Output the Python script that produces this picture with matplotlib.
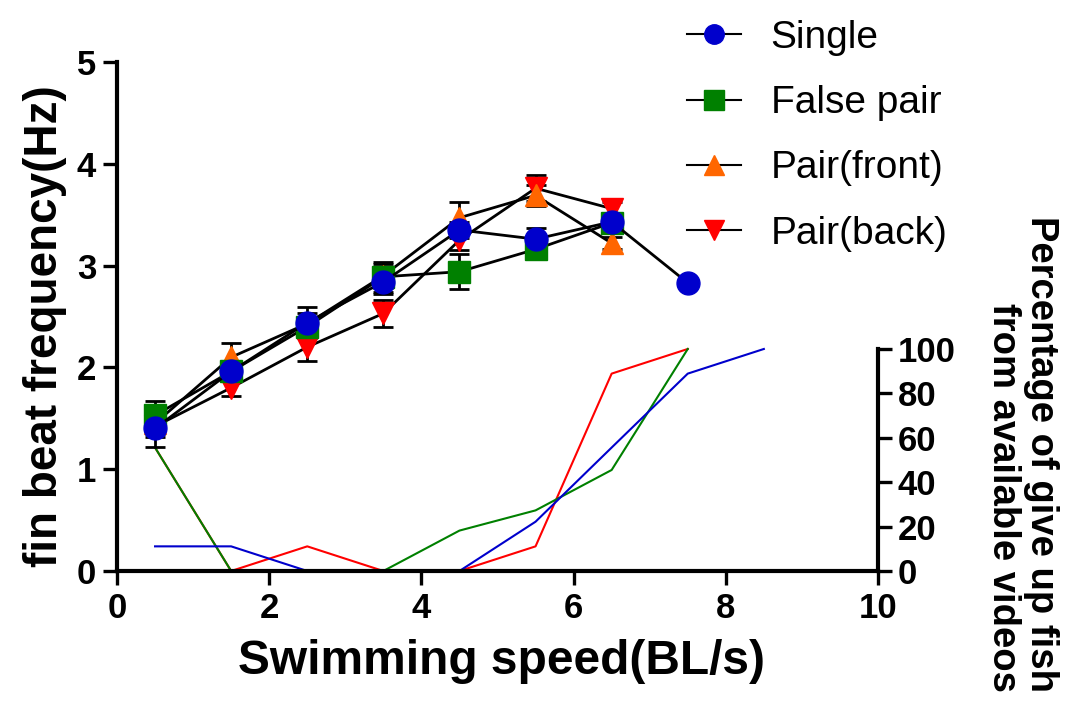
import matplotlib
matplotlib.use("Agg")
import matplotlib.pyplot as plt
from matplotlib.lines import Line2D

plt.rcParams['font.family'] = ['Liberation Sans', 'DejaVu Sans']

# fin beat frequency (Hz) vs swimming speed
speed = [0.5, 1.5, 2.5, 3.5, 4.5, 5.5, 6.5, 7.5]
single = [1.40, 1.96, 2.44, 2.84, 3.35, 3.26, 3.43, 2.83]
single_err = [0.18, 0.08, 0.15, 0.12, 0.08, 0.11, 0.05, 0.0]
false_pair = [1.53, 1.96, 2.40, 2.89, 2.94, 3.16, 3.42]
false_pair_err = [0.14, 0.08, 0.10, 0.15, 0.17, 0.10, 0.06]
pair_front = [1.45, 2.10, 2.43, 2.90, 3.47, 3.69, 3.22]
pair_front_err = [0.10, 0.14, 0.10, 0.12, 0.15, 0.10, 0.06]
pair_back = [1.42, 1.80, 2.20, 2.53, 3.25, 3.76, 3.56]
pair_back_err = [0.10, 0.08, 0.14, 0.13, 0.10, 0.13, 0.06]

# percentage of give up fish
gu_speed_single = [0.5, 1.5, 2.5, 3.5, 4.5, 5.5, 6.5, 7.5, 8.5]
gu_single = [11.1, 11.1, 0, 0, 0, 22.2, 55.6, 88.9, 100]
gu_speed = [0.5, 1.5, 2.5, 3.5, 4.5, 5.5, 6.5, 7.5]
gu_false = [55.6, 0, 0, 0, 18.2, 27.3, 45.5, 100]
gu_back = [55.6, 0, 11.1, 0, 0, 11.1, 88.9, 100]

fig = plt.figure(figsize=(10.89, 7.10), dpi=100)
ax = fig.add_axes([117/1089, 1-571/710, (878-117)/1089, (571-62)/710])
ax2 = ax.twinx()
ax.set_zorder(ax2.get_zorder() + 1)
ax.patch.set_visible(False)

# lower lines on the right axis
ax2.plot(gu_speed, gu_back, color='#FF0000', lw=1.5, clip_on=False)
ax2.plot(gu_speed, gu_false, color='#008000', lw=1.5, clip_on=False)
ax2.plot(gu_speed_single, gu_single, color='#0000CC', lw=1.5, clip_on=False)

kw = dict(color='k', lw=2.0, ecolor='k', elinewidth=2.0, capsize=7, capthick=2.0,
          markersize=16.5, clip_on=False)
ax.errorbar(speed[:7], pair_back, yerr=pair_back_err, marker='v', mfc='#FF0000',
            mec='#FF0000', **kw)
ax.errorbar(speed[:7], pair_front, yerr=pair_front_err, marker='^', mfc='#FF6600',
            mec='#FF6600', **kw)
ax.errorbar(speed[:7], false_pair, yerr=false_pair_err, marker='s', mfc='#008000',
            mec='#008000', **kw)
ax.errorbar(speed, single, yerr=single_err, marker='o', mfc='#0000CC',
            mec='#0000CC', **kw)

ax.set_xlim(0, 10)
ax.set_ylim(0, 5)
ax.set_xticks([0, 2, 4, 6, 8, 10])
ax.set_yticks([0, 1, 2, 3, 4, 5])
ax2.set_ylim(0, 100 * 5 / 2.181)
ax2.set_yticks([0, 20, 40, 60, 80, 100])

for s in ['top', 'right']:
    ax.spines[s].set_visible(False)
for s in ['top', 'left', 'bottom']:
    ax2.spines[s].set_visible(False)
for s in ['left', 'bottom']:
    ax.spines[s].set_linewidth(3)
ax2.spines['right'].set_linewidth(3)
ax2.spines['right'].set_bounds(0, 100)

ax.tick_params(direction='out', length=10, width=2.4, labelsize=25, pad=5)
ax2.tick_params(direction='out', length=10, width=2.4, labelsize=25, pad=4)
for lab in ax.get_xticklabels() + ax.get_yticklabels() + ax2.get_yticklabels():
    lab.set_fontweight('bold')

fig.text(45/1089, 1-326/710, 'fin beat frequency(Hz)', rotation=90, ha='center',
         va='center', fontsize=33, fontweight='bold')
fig.text(501/1089, 1-662/710, 'Swimming speed(BL/s)', ha='center', va='center',
         fontsize=34.5, fontweight='bold')
fig.text(1022/1089, 1-454/710, 'Percentage of give up fish\nfrom available videos',
         rotation=270, ha='center', va='center', multialignment='right',
         fontsize=27.5, fontweight='bold', linespacing=1.05)

labels = ['Single', 'False pair', 'Pair(front)', 'Pair(back)']
markers = ['o', 's', '^', 'v']
colors = ['#0000CC', '#008000', '#FF6600', '#FF0000']
handles = [Line2D([], [], color='k', lw=1.5, marker=m, mfc=c, mec=c, markersize=14)
           for m, c in zip(markers, colors)]
fig.legend(handles, labels, loc='upper left', bbox_to_anchor=(652/1089, 1.021),
           frameon=False, fontsize=28, handlelength=1.4, handletextpad=0.75,
           labelspacing=0.75)

fig.savefig('out.png', dpi=100)
